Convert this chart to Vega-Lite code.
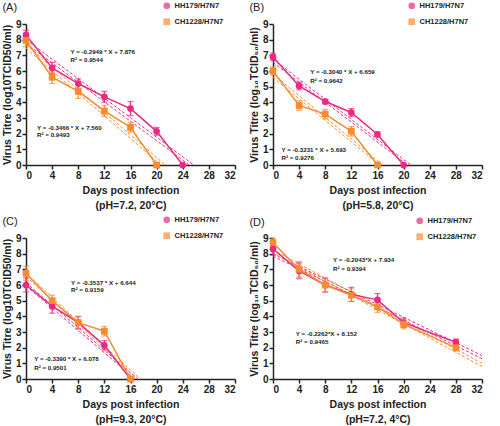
{
  "$schema": "https://vega.github.io/schema/vega-lite/v6.json",
  "background": "white",
  "padding": {"left": 2, "top": 2, "right": 2, "bottom": 2},
  "columns": 2,
  "spacing": {"column": 13, "row": 5},
  "datasets": {
    "pts": [
      {"panel": "A", "strain": "HH179/H7N7", "day": 0, "titre": 8.3, "lo": 8.0, "hi": 8.6},
      {"panel": "A", "strain": "HH179/H7N7", "day": 4, "titre": 6.2, "lo": 5.85, "hi": 6.55},
      {"panel": "A", "strain": "HH179/H7N7", "day": 8, "titre": 5.2, "lo": 4.9, "hi": 5.5},
      {"panel": "A", "strain": "HH179/H7N7", "day": 12, "titre": 4.35, "lo": 4.0, "hi": 4.7},
      {"panel": "A", "strain": "HH179/H7N7", "day": 16, "titre": 3.6, "lo": 3.15, "hi": 4.05},
      {"panel": "A", "strain": "HH179/H7N7", "day": 20, "titre": 2.15, "lo": 1.9, "hi": 2.4},
      {"panel": "A", "strain": "HH179/H7N7", "day": 24, "titre": 0, "lo": 0, "hi": 0},
      {"panel": "A", "strain": "CH1228/H7N7", "day": 0, "titre": 7.95, "lo": 7.55, "hi": 8.35},
      {"panel": "A", "strain": "CH1228/H7N7", "day": 4, "titre": 5.6, "lo": 5.2, "hi": 6.0},
      {"panel": "A", "strain": "CH1228/H7N7", "day": 8, "titre": 4.7, "lo": 4.25, "hi": 5.15},
      {"panel": "A", "strain": "CH1228/H7N7", "day": 12, "titre": 3.45, "lo": 3.1, "hi": 3.8},
      {"panel": "A", "strain": "CH1228/H7N7", "day": 16, "titre": 2.4, "lo": 2.1, "hi": 2.7},
      {"panel": "A", "strain": "CH1228/H7N7", "day": 20, "titre": 0, "lo": 0, "hi": 0},
      {"panel": "B", "strain": "HH179/H7N7", "day": 0, "titre": 6.9, "lo": 6.65, "hi": 7.15},
      {"panel": "B", "strain": "HH179/H7N7", "day": 4, "titre": 5.05, "lo": 4.8, "hi": 5.3},
      {"panel": "B", "strain": "HH179/H7N7", "day": 8, "titre": 4.05, "lo": 3.9, "hi": 4.2},
      {"panel": "B", "strain": "HH179/H7N7", "day": 12, "titre": 3.35, "lo": 3.1, "hi": 3.6},
      {"panel": "B", "strain": "HH179/H7N7", "day": 16, "titre": 1.95, "lo": 1.8, "hi": 2.1},
      {"panel": "B", "strain": "HH179/H7N7", "day": 20, "titre": 0, "lo": 0, "hi": 0},
      {"panel": "B", "strain": "CH1228/H7N7", "day": 0, "titre": 6.0, "lo": 5.75, "hi": 6.25},
      {"panel": "B", "strain": "CH1228/H7N7", "day": 4, "titre": 3.8, "lo": 3.5, "hi": 4.1},
      {"panel": "B", "strain": "CH1228/H7N7", "day": 8, "titre": 3.25, "lo": 2.95, "hi": 3.55},
      {"panel": "B", "strain": "CH1228/H7N7", "day": 12, "titre": 2.15, "lo": 1.85, "hi": 2.45},
      {"panel": "B", "strain": "CH1228/H7N7", "day": 16, "titre": 0, "lo": 0, "hi": 0},
      {"panel": "C", "strain": "HH179/H7N7", "day": 0, "titre": 6.0, "lo": 5.55, "hi": 6.45},
      {"panel": "C", "strain": "HH179/H7N7", "day": 4, "titre": 4.65, "lo": 4.2, "hi": 5.1},
      {"panel": "C", "strain": "HH179/H7N7", "day": 8, "titre": 3.6, "lo": 3.2, "hi": 4.0},
      {"panel": "C", "strain": "HH179/H7N7", "day": 12, "titre": 2.15, "lo": 1.85, "hi": 2.45},
      {"panel": "C", "strain": "HH179/H7N7", "day": 16, "titre": 0, "lo": 0, "hi": 0},
      {"panel": "C", "strain": "CH1228/H7N7", "day": 0, "titre": 6.75, "lo": 6.3, "hi": 7.2},
      {"panel": "C", "strain": "CH1228/H7N7", "day": 4, "titre": 5.0, "lo": 4.65, "hi": 5.35},
      {"panel": "C", "strain": "CH1228/H7N7", "day": 8, "titre": 3.6, "lo": 3.25, "hi": 3.95},
      {"panel": "C", "strain": "CH1228/H7N7", "day": 12, "titre": 3.05, "lo": 2.75, "hi": 3.35},
      {"panel": "C", "strain": "CH1228/H7N7", "day": 16, "titre": 0, "lo": 0, "hi": 0},
      {"panel": "D", "strain": "HH179/H7N7", "day": 0, "titre": 8.3, "lo": 7.9, "hi": 8.7},
      {"panel": "D", "strain": "HH179/H7N7", "day": 4, "titre": 6.9, "lo": 6.4, "hi": 7.4},
      {"panel": "D", "strain": "HH179/H7N7", "day": 8, "titre": 6.0, "lo": 5.55, "hi": 6.45},
      {"panel": "D", "strain": "HH179/H7N7", "day": 12, "titre": 5.4, "lo": 4.95, "hi": 5.85},
      {"panel": "D", "strain": "HH179/H7N7", "day": 16, "titre": 5.05, "lo": 4.65, "hi": 5.45},
      {"panel": "D", "strain": "HH179/H7N7", "day": 20, "titre": 3.6, "lo": 3.3, "hi": 3.9},
      {"panel": "D", "strain": "HH179/H7N7", "day": 28, "titre": 2.35, "lo": 2.15, "hi": 2.55},
      {"panel": "D", "strain": "CH1228/H7N7", "day": 0, "titre": 8.7, "lo": 8.4, "hi": 9.0},
      {"panel": "D", "strain": "CH1228/H7N7", "day": 4, "titre": 7.0, "lo": 6.5, "hi": 7.5},
      {"panel": "D", "strain": "CH1228/H7N7", "day": 8, "titre": 6.0, "lo": 5.55, "hi": 6.45},
      {"panel": "D", "strain": "CH1228/H7N7", "day": 12, "titre": 5.35, "lo": 4.95, "hi": 5.75},
      {"panel": "D", "strain": "CH1228/H7N7", "day": 16, "titre": 4.6, "lo": 4.25, "hi": 4.95},
      {"panel": "D", "strain": "CH1228/H7N7", "day": 20, "titre": 3.5, "lo": 3.2, "hi": 3.8},
      {"panel": "D", "strain": "CH1228/H7N7", "day": 28, "titre": 2.0, "lo": 1.8, "hi": 2.2}
    ],
    "fits": [
      {"panel": "A", "strain": "HH179/H7N7", "line": "a", "day": 0, "titre": 8.0},
      {"panel": "A", "strain": "HH179/H7N7", "line": "a", "day": 25.7, "titre": 0},
      {"panel": "A", "strain": "HH179/H7N7", "line": "b", "day": 0, "titre": 7.75},
      {"panel": "A", "strain": "HH179/H7N7", "line": "b", "day": 25.0, "titre": 0},
      {"panel": "A", "strain": "CH1228/H7N7", "line": "a", "day": 0, "titre": 7.7},
      {"panel": "A", "strain": "CH1228/H7N7", "line": "a", "day": 21.3, "titre": 0},
      {"panel": "A", "strain": "CH1228/H7N7", "line": "b", "day": 0, "titre": 7.45},
      {"panel": "A", "strain": "CH1228/H7N7", "line": "b", "day": 20.7, "titre": 0},
      {"panel": "B", "strain": "HH179/H7N7", "line": "a", "day": 0, "titre": 6.75},
      {"panel": "B", "strain": "HH179/H7N7", "line": "a", "day": 21.1, "titre": 0},
      {"panel": "B", "strain": "HH179/H7N7", "line": "b", "day": 0, "titre": 6.55},
      {"panel": "B", "strain": "HH179/H7N7", "line": "b", "day": 20.6, "titre": 0},
      {"panel": "B", "strain": "CH1228/H7N7", "line": "a", "day": 0, "titre": 5.8},
      {"panel": "B", "strain": "CH1228/H7N7", "line": "a", "day": 16.8, "titre": 0},
      {"panel": "B", "strain": "CH1228/H7N7", "line": "b", "day": 0, "titre": 5.6},
      {"panel": "B", "strain": "CH1228/H7N7", "line": "b", "day": 16.3, "titre": 0},
      {"panel": "C", "strain": "HH179/H7N7", "line": "a", "day": 0, "titre": 6.15},
      {"panel": "C", "strain": "HH179/H7N7", "line": "a", "day": 17.1, "titre": 0},
      {"panel": "C", "strain": "HH179/H7N7", "line": "b", "day": 0, "titre": 5.95},
      {"panel": "C", "strain": "HH179/H7N7", "line": "b", "day": 16.7, "titre": 0},
      {"panel": "C", "strain": "CH1228/H7N7", "line": "a", "day": 0, "titre": 6.75},
      {"panel": "C", "strain": "CH1228/H7N7", "line": "a", "day": 17.5, "titre": 0},
      {"panel": "C", "strain": "CH1228/H7N7", "line": "b", "day": 0, "titre": 6.55},
      {"panel": "C", "strain": "CH1228/H7N7", "line": "b", "day": 17.1, "titre": 0},
      {"panel": "D", "strain": "HH179/H7N7", "line": "a", "day": 0, "titre": 8.0},
      {"panel": "D", "strain": "HH179/H7N7", "line": "a", "day": 32, "titre": 1.5},
      {"panel": "D", "strain": "HH179/H7N7", "line": "b", "day": 0, "titre": 7.85},
      {"panel": "D", "strain": "HH179/H7N7", "line": "b", "day": 32, "titre": 1.3},
      {"panel": "D", "strain": "CH1228/H7N7", "line": "a", "day": 0, "titre": 8.25},
      {"panel": "D", "strain": "CH1228/H7N7", "line": "a", "day": 32, "titre": 1.0},
      {"panel": "D", "strain": "CH1228/H7N7", "line": "b", "day": 0, "titre": 8.05},
      {"panel": "D", "strain": "CH1228/H7N7", "line": "b", "day": 32, "titre": 0.8}
    ],
    "notes": [
      {"panel": "A", "day": 6.8, "titre": 7.2, "label": "Y = -0.2949 * X + 7.876"},
      {"panel": "A", "day": 6.8, "titre": 6.72, "label": "R² = 0.9544"},
      {"panel": "A", "day": 1.7, "titre": 2.37, "label": "Y = -0.3466 * X + 7.560"},
      {"panel": "A", "day": 1.7, "titre": 1.9, "label": "R² = 0.9493"},
      {"panel": "B", "day": 5.7, "titre": 5.93, "label": "Y = -0.3040 * X + 6.659"},
      {"panel": "B", "day": 5.7, "titre": 5.35, "label": "R² = 0.9642"},
      {"panel": "B", "day": 1.3, "titre": 0.96, "label": "Y = -0.3231 * X + 5.693"},
      {"panel": "B", "day": 1.3, "titre": 0.47, "label": "R² = 0.9276"},
      {"panel": "C", "day": 6.9, "titre": 6.12, "label": "Y = -0.3537 * X + 6.644"},
      {"panel": "C", "day": 6.9, "titre": 5.65, "label": "R² = 0.9159"},
      {"panel": "C", "day": 1.25, "titre": 1.26, "label": "Y = -0.3390 * X + 6.078"},
      {"panel": "C", "day": 1.25, "titre": 0.71, "label": "R² = 0.9501"},
      {"panel": "D", "day": 9.2, "titre": 7.58, "label": "Y = -0.2043*X + 7.934"},
      {"panel": "D", "day": 9.2, "titre": 7.05, "label": "R² = 0.9394"},
      {"panel": "D", "day": 3.5, "titre": 2.87, "label": "Y = -0.2262*X + 8.152"},
      {"panel": "D", "day": 3.5, "titre": 2.34, "label": "R² = 0.9465"}
    ]
  },
  "resolve": {"scale": {"color": "independent", "shape": "independent"}, "legend": {"color": "independent", "shape": "independent"}},
  "concat": [
    {
      "width": 209, "height": 141,
      "title": {"text": "(A)"},
      "encoding": {
        "x": {"field": "day", "type": "quantitative", "scale": {"domain": [0, 32], "nice": false}, "axis": {"values": [0, 4, 8, 12, 16, 20, 24, 28, 32]}, "title": ["Days post infection", "(pH=7.2, 20°C)"]},
        "y": {"field": "titre", "type": "quantitative", "scale": {"domain": [0, 9], "nice": false}, "axis": {"values": [0, 1, 2, 3, 4, 5, 6, 7, 8, 9], "labelOverlap": false}, "title": "Virus Titre (log10TCID50/ml)"},
        "color": {"field": "strain", "type": "nominal", "scale": {"domain": ["HH179/H7N7", "CH1228/H7N7"], "range": ["#ea2a82", "#f58b33"]}, "legend": {"title": null, "orient": "none", "legendX": 137, "legendY": -22}}
      },
      "layer": [
        {"data": {"name": "fits"}, "transform": [{"filter": "datum.panel === 'A'"}],
         "mark": {"type": "line", "strokeDash": [3, 2], "strokeWidth": 1},
         "encoding": {"detail": {"field": "line", "type": "nominal"}}},
        {"data": {"name": "pts"}, "transform": [{"filter": "datum.panel === 'A'"}],
         "mark": {"type": "line", "strokeWidth": 1.5}, "encoding": {}},
        {"data": {"name": "pts"}, "transform": [{"filter": "datum.panel === 'A' && datum.hi > 0"}, {"fold": ["lo", "hi"], "as": ["end", "titre"]}],
         "mark": {"type": "line", "strokeWidth": 1.2},
         "encoding": {"detail": {"field": "day", "type": "nominal"}}},
        {"data": {"name": "pts"}, "transform": [{"filter": "datum.panel === 'A' && datum.hi > 0"}, {"fold": ["lo", "hi"], "as": ["end", "titre"]}],
         "mark": {"type": "tick", "orient": "horizontal", "size": 6, "thickness": 1.2}, "encoding": {}},
        {"data": {"name": "pts"}, "transform": [{"filter": "datum.panel === 'A'"}],
         "mark": {"type": "point", "filled": true, "opacity": 1, "size": 45},
         "encoding": {"shape": {"field": "strain", "type": "nominal", "scale": {"domain": ["HH179/H7N7", "CH1228/H7N7"], "range": ["circle", "square"]}, "legend": {"title": null, "orient": "none", "legendX": 137, "legendY": -22}}}},
        {"data": {"name": "notes"}, "transform": [{"filter": "datum.panel === 'A'"}],
         "mark": {"type": "text", "align": "left", "baseline": "middle", "fontSize": 6.2, "fontWeight": "bold", "color": "#222"},
         "encoding": {"text": {"field": "label"}, "color": {"value": "#222"}}}
      ]
    },
    {
      "width": 209, "height": 141,
      "title": {"text": "(B)"},
      "encoding": {
        "x": {"field": "day", "type": "quantitative", "scale": {"domain": [0, 32], "nice": false}, "axis": {"values": [0, 4, 8, 12, 16, 20, 24, 28, 32]}, "title": ["Days post infection", "(pH=5.8, 20°C)"]},
        "y": {"field": "titre", "type": "quantitative", "scale": {"domain": [0, 9], "nice": false}, "axis": {"values": [0, 1, 2, 3, 4, 5, 6, 7, 8, 9], "labelOverlap": false}, "title": "Virus Titre (log₁₀TCID₅₀/ml)"},
        "color": {"field": "strain", "type": "nominal", "scale": {"domain": ["HH179/H7N7", "CH1228/H7N7"], "range": ["#ea2a82", "#f58b33"]}, "legend": {"title": null, "orient": "none", "legendX": 135, "legendY": -22}}
      },
      "layer": [
        {"data": {"name": "fits"}, "transform": [{"filter": "datum.panel === 'B'"}],
         "mark": {"type": "line", "strokeDash": [3, 2], "strokeWidth": 1},
         "encoding": {"detail": {"field": "line", "type": "nominal"}}},
        {"data": {"name": "pts"}, "transform": [{"filter": "datum.panel === 'B'"}],
         "mark": {"type": "line", "strokeWidth": 1.5}, "encoding": {}},
        {"data": {"name": "pts"}, "transform": [{"filter": "datum.panel === 'B' && datum.hi > 0"}, {"fold": ["lo", "hi"], "as": ["end", "titre"]}],
         "mark": {"type": "line", "strokeWidth": 1.2},
         "encoding": {"detail": {"field": "day", "type": "nominal"}}},
        {"data": {"name": "pts"}, "transform": [{"filter": "datum.panel === 'B' && datum.hi > 0"}, {"fold": ["lo", "hi"], "as": ["end", "titre"]}],
         "mark": {"type": "tick", "orient": "horizontal", "size": 6, "thickness": 1.2}, "encoding": {}},
        {"data": {"name": "pts"}, "transform": [{"filter": "datum.panel === 'B'"}],
         "mark": {"type": "point", "filled": true, "opacity": 1, "size": 45},
         "encoding": {"shape": {"field": "strain", "type": "nominal", "scale": {"domain": ["HH179/H7N7", "CH1228/H7N7"], "range": ["circle", "square"]}, "legend": {"title": null, "orient": "none", "legendX": 135, "legendY": -22}}}},
        {"data": {"name": "notes"}, "transform": [{"filter": "datum.panel === 'B'"}],
         "mark": {"type": "text", "align": "left", "baseline": "middle", "fontSize": 6.2, "fontWeight": "bold", "color": "#222"},
         "encoding": {"text": {"field": "label"}, "color": {"value": "#222"}}}
      ]
    },
    {
      "width": 209, "height": 141,
      "title": {"text": "(C)"},
      "encoding": {
        "x": {"field": "day", "type": "quantitative", "scale": {"domain": [0, 32], "nice": false}, "axis": {"values": [0, 4, 8, 12, 16, 20, 24, 28, 32]}, "title": ["Days post infection", "(pH=9.3, 20°C)"]},
        "y": {"field": "titre", "type": "quantitative", "scale": {"domain": [0, 9], "nice": false}, "axis": {"values": [0, 1, 2, 3, 4, 5, 6, 7, 8, 9], "labelOverlap": false}, "title": "Virus Titre (log10TCID50/ml)"},
        "color": {"field": "strain", "type": "nominal", "scale": {"domain": ["HH179/H7N7", "CH1228/H7N7"], "range": ["#ea2a82", "#f58b33"]}, "legend": {"title": null, "orient": "none", "legendX": 137, "legendY": -22}}
      },
      "layer": [
        {"data": {"name": "fits"}, "transform": [{"filter": "datum.panel === 'C'"}],
         "mark": {"type": "line", "strokeDash": [3, 2], "strokeWidth": 1},
         "encoding": {"detail": {"field": "line", "type": "nominal"}}},
        {"data": {"name": "pts"}, "transform": [{"filter": "datum.panel === 'C'"}],
         "mark": {"type": "line", "strokeWidth": 1.5}, "encoding": {}},
        {"data": {"name": "pts"}, "transform": [{"filter": "datum.panel === 'C' && datum.hi > 0"}, {"fold": ["lo", "hi"], "as": ["end", "titre"]}],
         "mark": {"type": "line", "strokeWidth": 1.2},
         "encoding": {"detail": {"field": "day", "type": "nominal"}}},
        {"data": {"name": "pts"}, "transform": [{"filter": "datum.panel === 'C' && datum.hi > 0"}, {"fold": ["lo", "hi"], "as": ["end", "titre"]}],
         "mark": {"type": "tick", "orient": "horizontal", "size": 6, "thickness": 1.2}, "encoding": {}},
        {"data": {"name": "pts"}, "transform": [{"filter": "datum.panel === 'C'"}],
         "mark": {"type": "point", "filled": true, "opacity": 1, "size": 45},
         "encoding": {"shape": {"field": "strain", "type": "nominal", "scale": {"domain": ["HH179/H7N7", "CH1228/H7N7"], "range": ["circle", "square"]}, "legend": {"title": null, "orient": "none", "legendX": 137, "legendY": -22}}}},
        {"data": {"name": "notes"}, "transform": [{"filter": "datum.panel === 'C'"}],
         "mark": {"type": "text", "align": "left", "baseline": "middle", "fontSize": 6.2, "fontWeight": "bold", "color": "#222"},
         "encoding": {"text": {"field": "label"}, "color": {"value": "#222"}}}
      ]
    },
    {
      "width": 209, "height": 141,
      "title": {"text": "(D)"},
      "encoding": {
        "x": {"field": "day", "type": "quantitative", "scale": {"domain": [0, 32], "nice": false}, "axis": {"values": [0, 4, 8, 12, 16, 20, 24, 28, 32]}, "title": ["Days post infection", "(pH=7.2, 4°C)"]},
        "y": {"field": "titre", "type": "quantitative", "scale": {"domain": [0, 9], "nice": false}, "axis": {"values": [0, 1, 2, 3, 4, 5, 6, 7, 8, 9], "labelOverlap": false}, "title": "Virus Titre (log₁₀TCID₅₀/ml)"},
        "color": {"field": "strain", "type": "nominal", "scale": {"domain": ["HH179/H7N7", "CH1228/H7N7"], "range": ["#ea2a82", "#f58b33"]}, "legend": {"title": null, "orient": "none", "legendX": 143, "legendY": -21}}
      },
      "layer": [
        {"data": {"name": "fits"}, "transform": [{"filter": "datum.panel === 'D'"}],
         "mark": {"type": "line", "strokeDash": [3, 2], "strokeWidth": 1},
         "encoding": {"detail": {"field": "line", "type": "nominal"}}},
        {"data": {"name": "pts"}, "transform": [{"filter": "datum.panel === 'D'"}],
         "mark": {"type": "line", "strokeWidth": 1.5}, "encoding": {}},
        {"data": {"name": "pts"}, "transform": [{"filter": "datum.panel === 'D' && datum.hi > 0"}, {"fold": ["lo", "hi"], "as": ["end", "titre"]}],
         "mark": {"type": "line", "strokeWidth": 1.2},
         "encoding": {"detail": {"field": "day", "type": "nominal"}}},
        {"data": {"name": "pts"}, "transform": [{"filter": "datum.panel === 'D' && datum.hi > 0"}, {"fold": ["lo", "hi"], "as": ["end", "titre"]}],
         "mark": {"type": "tick", "orient": "horizontal", "size": 6, "thickness": 1.2}, "encoding": {}},
        {"data": {"name": "pts"}, "transform": [{"filter": "datum.panel === 'D'"}],
         "mark": {"type": "point", "filled": true, "opacity": 1, "size": 45},
         "encoding": {"shape": {"field": "strain", "type": "nominal", "scale": {"domain": ["HH179/H7N7", "CH1228/H7N7"], "range": ["circle", "square"]}, "legend": {"title": null, "orient": "none", "legendX": 143, "legendY": -21}}}},
        {"data": {"name": "notes"}, "transform": [{"filter": "datum.panel === 'D'"}],
         "mark": {"type": "text", "align": "left", "baseline": "middle", "fontSize": 6.2, "fontWeight": "bold", "color": "#222"},
         "encoding": {"text": {"field": "label"}, "color": {"value": "#222"}}}
      ]
    }
  ],
  "config": {
    "font": "Liberation Sans",
    "view": {"stroke": null},
    "title": {"anchor": "start", "frame": "bounds", "fontSize": 11, "fontWeight": "normal", "color": "#222", "offset": -11},
    "axis": {"grid": false, "labelOverlap": false, "domainColor": "#222", "domainWidth": 1.5, "tickColor": "#222", "tickWidth": 1.5, "tickSize": 4, "labelFontSize": 10, "labelFontWeight": "bold", "labelColor": "#222", "labelPadding": 1, "titleFontSize": 10.5, "titleFontWeight": "bold", "titleColor": "#222", "titlePadding": 5, "titleLineHeight": 15},
    "axisY": {"labelPadding": 1, "titlePadding": 3, "labelOverlap": false},
    "legend": {"labelFontSize": 7.5, "labelFontWeight": "bold", "labelColor": "#222", "symbolSize": 45, "rowPadding": 7, "symbolStrokeWidth": 0}
  }
}
